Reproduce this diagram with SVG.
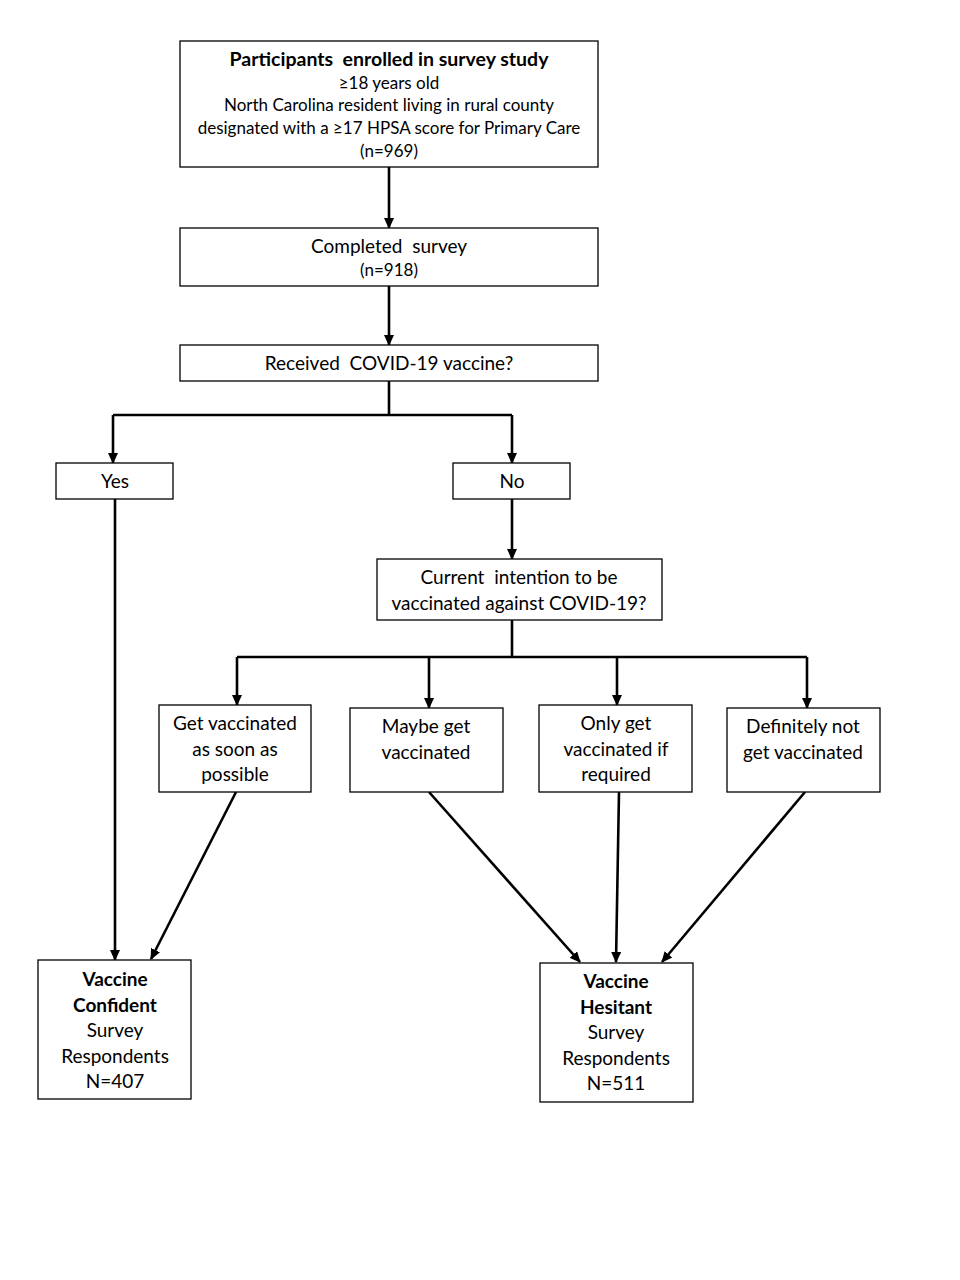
<svg xmlns="http://www.w3.org/2000/svg" width="960" height="1280" viewBox="0 0 960 1280">
<style>
.box{fill:#fff;stroke:#000;stroke-width:1.3}
text{font-family:Lato,"Open Sans","Liberation Sans",sans-serif;font-size:19px;fill:#000;text-anchor:middle}
.b{font-weight:bold}
.t{font-size:19.5px}
.s{font-size:17px}
.c{fill:none;stroke:#000;stroke-width:2.6}
</style>
<defs>
<marker id="ah" markerWidth="11" markerHeight="10" refX="10" refY="5" orient="auto" markerUnits="userSpaceOnUse" viewBox="0 0 11 10">
<path d="M0,0 L11,5 L0,10 z" fill="#000"/>
</marker>
</defs>
<rect width="960" height="1280" fill="#fff"/>
<g id="connectors">
<path class="c" d="M389,167 V228" marker-end="url(#ah)"/>
<path class="c" d="M389,286 V345" marker-end="url(#ah)"/>
<path class="c" d="M389,381 V415"/>
<path class="c" d="M113,415 H512"/>
<path class="c" d="M113,415 V463" marker-end="url(#ah)"/>
<path class="c" d="M512,415 V463" marker-end="url(#ah)"/>
<path class="c" d="M115,499 V960" marker-end="url(#ah)"/>
<path class="c" d="M512,499 V559" marker-end="url(#ah)"/>
<path class="c" d="M512,620 V657"/>
<path class="c" d="M237,657 H807"/>
<path class="c" d="M237,657 V705" marker-end="url(#ah)"/>
<path class="c" d="M429,657 V708" marker-end="url(#ah)"/>
<path class="c" d="M617,657 V705" marker-end="url(#ah)"/>
<path class="c" d="M807,657 V708" marker-end="url(#ah)"/>
<path class="c" d="M236,792 L151,959" marker-end="url(#ah)"/>
<path class="c" d="M429,792 L580,962" marker-end="url(#ah)"/>
<path class="c" d="M619,792 L616,962" marker-end="url(#ah)"/>
<path class="c" d="M805,792 L662,962" marker-end="url(#ah)"/>
</g>
<g id="enrolled">
<rect class="box" x="180" y="41" width="418" height="126"/>
<text class="b t" x="389" y="66" xml:space="preserve">Participants  enrolled in survey study</text>
<text class="s" x="389" y="89">≥18 years old</text>
<text class="s" x="389" y="111">North Carolina resident living in rural county</text>
<text class="s" x="389" y="134">designated with a ≥17 HPSA score for Primary Care</text>
<text class="s" x="389" y="157">(n=969)</text>
</g>
<g id="completed">
<rect class="box" x="180" y="228" width="418" height="58"/>
<text x="389" y="253" xml:space="preserve">Completed  survey</text>
<text class="s" x="389" y="276">(n=918)</text>
</g>
<g id="received">
<rect class="box" x="180" y="345" width="418" height="36"/>
<text x="389" y="370" xml:space="preserve">Received  COVID-19 vaccine?</text>
</g>
<g id="yes">
<rect class="box" x="56" y="463" width="117" height="36"/>
<text x="115" y="488">Yes</text>
</g>
<g id="no">
<rect class="box" x="453" y="463" width="117" height="36"/>
<text x="512" y="488">No</text>
</g>
<g id="intention">
<rect class="box" x="377" y="559" width="285" height="61"/>
<text x="519" y="584" xml:space="preserve">Current  intention to be</text>
<text x="519" y="610">vaccinated against COVID-19?</text>
</g>
<g id="asap">
<rect class="box" x="159" y="705" width="152" height="87"/>
<text x="235" y="730">Get vaccinated</text>
<text x="235" y="756">as soon as</text>
<text x="235" y="781">possible</text>
</g>
<g id="maybe">
<rect class="box" x="350" y="708" width="153" height="84"/>
<text x="426" y="733">Maybe get</text>
<text x="426" y="759">vaccinated</text>
</g>
<g id="required">
<rect class="box" x="539" y="705" width="153" height="87"/>
<text x="616" y="730">Only get</text>
<text x="616" y="756">vaccinated if</text>
<text x="616" y="781">required</text>
</g>
<g id="definitely">
<rect class="box" x="727" y="708" width="153" height="84"/>
<text x="803" y="733">Definitely not</text>
<text x="803" y="759">get vaccinated</text>
</g>
<g id="confident">
<rect class="box" x="38" y="960" width="153" height="139"/>
<text class="b" x="115" y="986">Vaccine</text>
<text class="b" x="115" y="1012">Confident</text>
<text x="115" y="1037">Survey</text>
<text x="115" y="1063">Respondents</text>
<text x="115" y="1088">N=407</text>
</g>
<g id="hesitant">
<rect class="box" x="540" y="963" width="153" height="139"/>
<text class="b" x="616" y="988">Vaccine</text>
<text class="b" x="616" y="1014">Hesitant</text>
<text x="616" y="1039">Survey</text>
<text x="616" y="1065">Respondents</text>
<text x="616" y="1090">N=511</text>
</g>
</svg>
